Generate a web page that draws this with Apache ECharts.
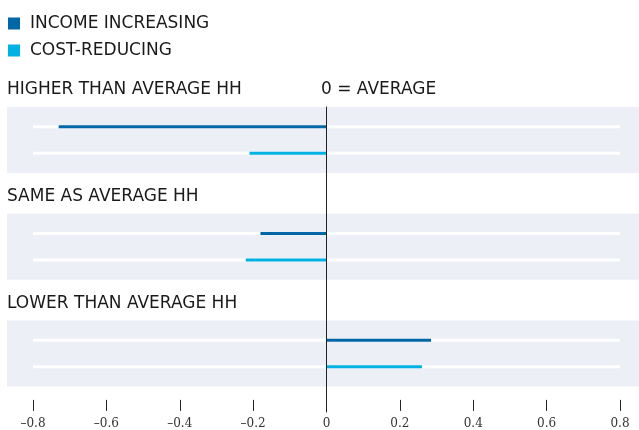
<!DOCTYPE html>
<html>
<head>
<meta charset="utf-8">
<script src="https://cdn.jsdelivr.net/npm/echarts@6/dist/echarts.min.js"></script>
<style>
  html, body { margin: 0; padding: 0; background: #fff; }
  #chart { width: 639px; height: 430px; }
</style>
</head>
<body>
<div id="chart"></div>
<script>
// data
const categories = ['HIGHER THAN AVERAGE HH', 'SAME AS AVERAGE HH', 'LOWER THAN AVERAGE HH'];
const incomeIncreasing = [-0.73, -0.18, 0.285];
const costReducing = [-0.21, -0.22, 0.26];
const bandFill = [1, 1, 1];
const xMin = -0.8, xMax = 0.8, xStep = 0.2;

const headFont = 'DejaVu Sans';
const headSize = 17;
const darkBlue = '#0067a7';
const lightBlue = '#00b2e3';

let myChart = echarts.init(document.getElementById('chart'));

myChart.setOption({
    animation: false,
    title: {
        text: '0 = AVERAGE',
        left: 321,
        top: 81,
        padding: 0,
        textStyle: { fontFamily: headFont, fontSize: headSize, fontWeight: 'normal', color: '#1a1a1a' }
    },
    legend: {
        orient: 'vertical',
        left: 8,
        top: 15,
        padding: 0,
        itemWidth: 12,
        itemHeight: 12,
        itemGap: 10,
        icon: 'rect',
        data: ['INCOME INCREASING', 'COST-REDUCING'],
        textStyle: { fontFamily: headFont, fontSize: headSize, color: '#1a1a1a', lineHeight: 12, padding: [0, 0, 0, 5] }
    },
    grid: [
        // grey bands
        { left: 7, right: 0, top: 86.6, bottom: 23.1 },
        // bars
        { left: 33, right: 19, top: 86.6, bottom: 23.1 },
        // zero line
        { left: 33, right: 19, top: 107, bottom: 18 }
    ],
    xAxis: [
        { gridIndex: 0, type: 'value', min: 0, max: 1, show: false },
        {
            gridIndex: 1,
            type: 'value',
            min: xMin,
            max: xMax,
            interval: xStep,
            offset: -7,
            axisLine: { show: false },
            axisTick: { show: true, length: 11, lineStyle: { color: '#222', width: 1 } },
            splitLine: { show: false },
            axisLabel: {
                margin: 18,
                fontFamily: 'DejaVu Serif',
                fontSize: 12,
                color: '#333',
                formatter: function (v) {
                    if (Math.abs(v) < 1e-9) return '0';
                    return (v < 0 ? '\u2013' : '') + Math.abs(v).toFixed(1);
                }
            }
        },
        { gridIndex: 2, type: 'value', min: xMin, max: xMax, show: false }
    ],
    yAxis: [
        {
            gridIndex: 0,
            type: 'category',
            inverse: true,
            data: categories,
            axisLine: { show: false },
            axisTick: { show: false },
            axisLabel: {
                inside: true,
                margin: 0,
                align: 'left',
                verticalAlign: 'middle',
                // heading sits above its band: push it up with an empty second line
                formatter: function (v) { return '{h|' + v + '}\n{gap| }'; },
                rich: {
                    h: { fontFamily: headFont, fontSize: headSize, color: '#1a1a1a', lineHeight: 20 },
                    gap: { fontSize: 10, lineHeight: 100 }
                }
            }
        },
        {
            gridIndex: 1,
            type: 'category',
            inverse: true,
            data: categories,
            show: false
        },
        {
            gridIndex: 2,
            type: 'value',
            min: 0,
            max: 1,
            z: 10,
            axisLine: { show: true, onZero: true, lineStyle: { color: '#222', width: 1 } },
            axisTick: { show: false },
            axisLabel: { show: false },
            splitLine: { show: false }
        }
    ],
    series: [
        {
            name: 'band',
            type: 'bar',
            xAxisIndex: 0,
            yAxisIndex: 0,
            data: bandFill,
            barWidth: 66,
            itemStyle: { color: '#eceff6' },
            silent: true,
            z: 0
        },
        {
            name: 'INCOME INCREASING',
            type: 'bar',
            xAxisIndex: 1,
            yAxisIndex: 1,
            data: incomeIncreasing,
            barWidth: 3,
            barGap: '783%',
            showBackground: true,
            backgroundStyle: { color: '#ffffff' },
            itemStyle: { color: darkBlue },
            z: 2
        },
        {
            name: 'COST-REDUCING',
            type: 'bar',
            xAxisIndex: 1,
            yAxisIndex: 1,
            data: costReducing,
            barWidth: 3,
            barGap: '783%',
            showBackground: true,
            backgroundStyle: { color: '#ffffff' },
            itemStyle: { color: lightBlue },
            z: 2
        }
    ]
});
</script>
</body>
</html>
